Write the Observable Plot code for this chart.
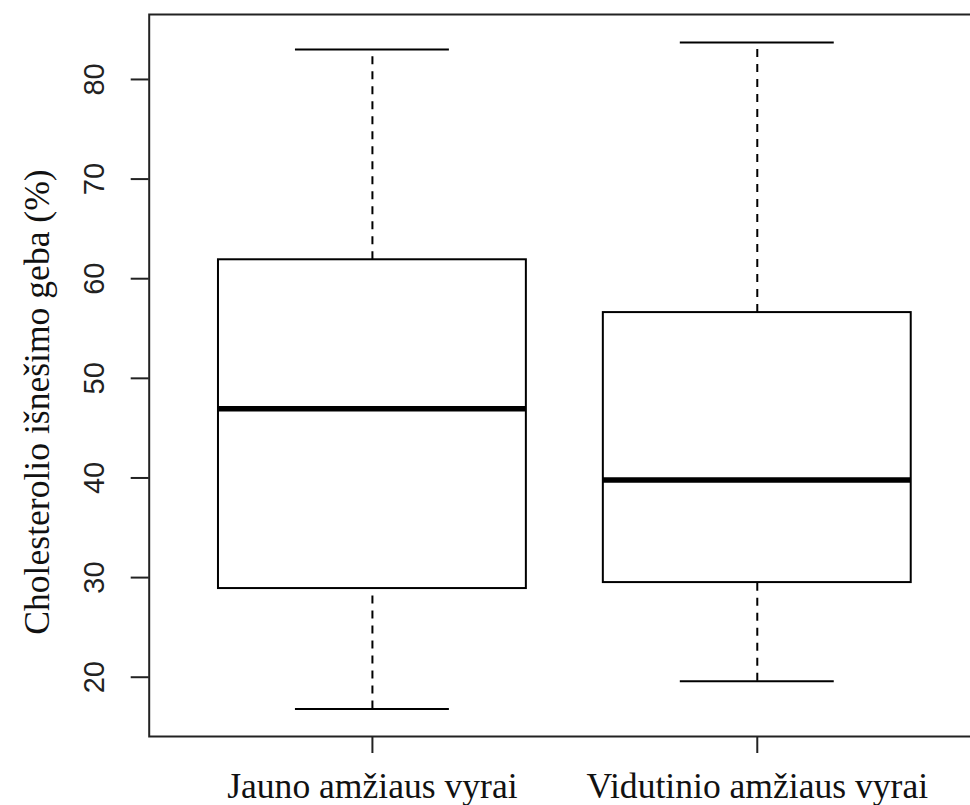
<!DOCTYPE html>
<html>
<head>
<meta charset="utf-8">
<script src="https://cdn.jsdelivr.net/npm/d3@7"></script>
<script src="https://cdn.jsdelivr.net/npm/@observablehq/plot@0.6"></script>
<style>
  html, body { margin: 0; padding: 0; background: #fff; }
  #chart svg { display: block; }
</style>
</head>
<body>
<div id="chart"></div>
<script>
// Group labels
const groups = ["Jauno amžiaus vyrai", "Vidutinio amžiaus vyrai"];
// Boxplot statistics
const lowerWhisker = [16.8, 19.6];
const q1 = [28.9, 29.5];
const median = [46.95, 39.8];
const q3 = [61.9, 56.6];
const upperWhisker = [83.0, 83.7];
// Axis ticks
const yTicks = [20, 30, 40, 50, 60, 70, 80];
const xTicks = [1, 2];
const yLabel = "Cholesterolio išnešimo geba (%)";

const data = groups.map((g, i) => ({
  pos: i + 1,
  group: g,
  lo: lowerWhisker[i],
  q1: q1[i],
  med: median[i],
  q3: q3[i],
  hi: upperWhisker[i]
}));

const boxHalf = 0.4;   // R default boxwex 0.8
const capHalf = 0.2;   // staple = half box width

const chart = Plot.plot({
  width: 970,
  height: 805,
  marginLeft: 148.7,
  marginRight: -10,
  marginTop: 14,
  marginBottom: 69,
  style: { fontFamily: "'Liberation Sans', Arial, sans-serif", background: "#fff", overflow: "hidden" },
  x: { domain: [0.42, 2.58], axis: null },
  y: { domain: [14.05, 86.52], axis: null },
  marks: [
    // whiskers (dashed)
    Plot.ruleX(data, { x: "pos", y1: "q3", y2: "hi", stroke: "#000", strokeWidth: 2, strokeDasharray: "8,7" }),
    Plot.ruleX(data, { x: "pos", y1: "lo", y2: "q1", stroke: "#000", strokeWidth: 2, strokeDasharray: "8,7" }),
    // staples
    Plot.ruleY(data, { y: "hi", x1: d => d.pos - capHalf, x2: d => d.pos + capHalf, stroke: "#000", strokeWidth: 2 }),
    Plot.ruleY(data, { y: "lo", x1: d => d.pos - capHalf, x2: d => d.pos + capHalf, stroke: "#000", strokeWidth: 2 }),
    // boxes
    Plot.rect(data, { x1: d => d.pos - boxHalf, x2: d => d.pos + boxHalf, y1: "q1", y2: "q3", fill: "#fff", stroke: "#000", strokeWidth: 2 }),
    // medians
    Plot.ruleY(data, { y: "med", x1: d => d.pos - boxHalf, x2: d => d.pos + boxHalf, stroke: "#000", strokeWidth: 5.5 }),
    // frame
    Plot.frame({ stroke: "#222", strokeWidth: 2 }),
    // y axis ticks
    Plot.axisY({ ticks: yTicks, tickSize: 18, tickFormat: () => "", label: null, strokeWidth: 2, stroke: "#222" }),
    // y tick labels (rotated, parallel to axis)
    Plot.text(yTicks, { y: d => d, text: d => String(d), frameAnchor: "left", rotate: -90, textAnchor: "middle", lineAnchor: "bottom", dx: -45, fontSize: 29, fontFamily: "'Liberation Sans', Arial, sans-serif", fill: "#222" }),
    // x axis
    Plot.axisX({ ticks: xTicks, tickSize: 17, tickPadding: 19, tickFormat: i => groups[i - 1], label: null, strokeWidth: 2, stroke: "#222", fontSize: 35.6, fontFamily: "'Liberation Serif', 'Times New Roman', serif", fill: "#111" }),
    // y axis title
    Plot.text([yLabel], { frameAnchor: "left", rotate: -90, textAnchor: "middle", lineAnchor: "bottom", dx: -100.7, dy: 26.5, fontSize: 35.6, fontFamily: "'Liberation Serif', 'Times New Roman', serif", fill: "#111" })
  ]
});

document.getElementById("chart").appendChild(chart);
</script>
</body>
</html>
